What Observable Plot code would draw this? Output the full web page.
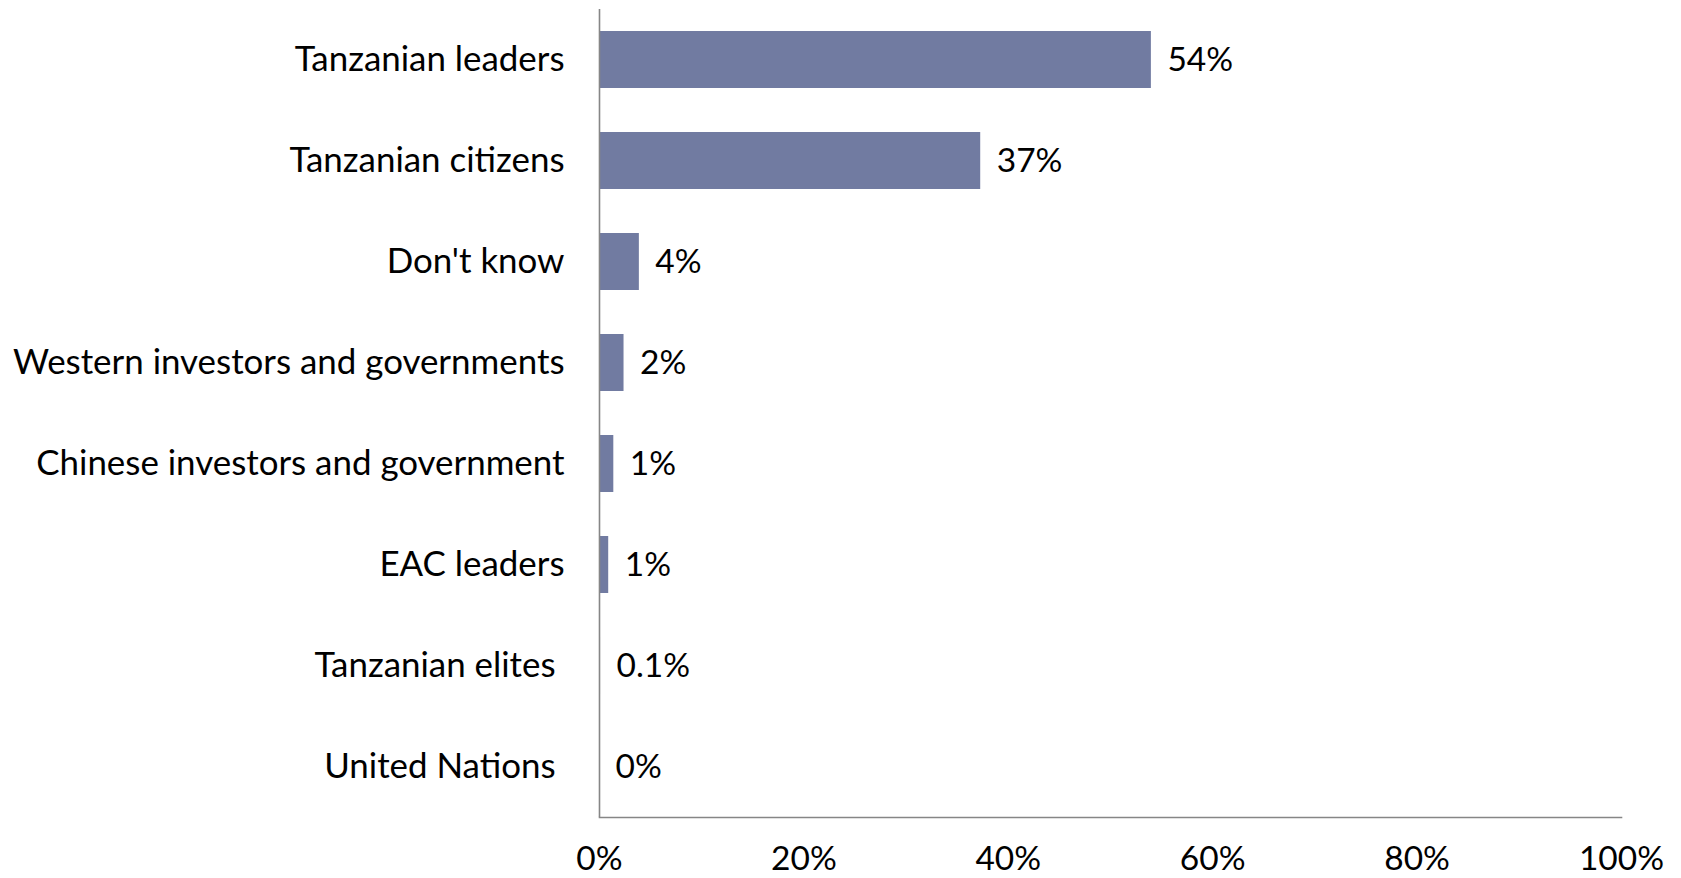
<!DOCTYPE html>
<html>
<head>
<meta charset="utf-8">
<script src="https://cdn.jsdelivr.net/npm/d3@7"></script>
<script src="https://cdn.jsdelivr.net/npm/@observablehq/plot@0.6"></script>
<style>
  html, body { margin: 0; padding: 0; background: #fff; }
  #chart svg { display: block; }
</style>
</head>
<body>
<div id="chart"></div>
<script>
// Categories (top to bottom); trailing no-break space reproduces the original labels' trailing blanks
const categories = [
  "Tanzanian leaders",
  "Tanzanian citizens",
  "Don't know",
  "Western investors and governments",
  "Chinese investors and government",
  "EAC leaders",
  "Tanzanian elites\u00a0",
  "United Nations\u00a0"
];
// Share of respondents (%)
const values = [54, 37.3, 3.9, 2.4, 1.4, 0.9, 0.1, 0];
// Data labels as printed
const valueLabels = ["54%", "37%", "4%", "2%", "1%", "1%", "0.1%", "0%"];
// X axis ticks
const xTicks = [0, 20, 40, 60, 80, 100];

const data = categories.map((c, i) => ({category: c, value: values[i], label: valueLabels[i]}));

const FONT = "Lato, 'Open Sans', sans-serif";
const FS = 33.5;
const FS_CAT = 34.9;
const AXIS = "#868686";

const chart = Plot.plot({
  width: 1681,
  height: 878,
  marginLeft: 599,
  marginRight: 60,
  marginTop: 9,
  marginBottom: 61,
  style: {fontFamily: FONT, fontSize: FS + "px", color: "#000", background: "#fff"},
  x: {domain: [0, 100], ticks: xTicks, tickFormat: d => d + "%", label: null},
  y: {domain: categories, paddingInner: 0.436, paddingOuter: 0.218, label: null},
  marks: [
    Plot.barX(data, {x: "value", y: "category", fill: "#717ba1"}),
    Plot.text(data, {x: "value", y: "category", text: "label", textAnchor: "start", dx: 16, fill: "#000", fontSize: FS}),
    Plot.ruleX([0], {stroke: AXIS, strokeWidth: 1.6}),
    Plot.frame({anchor: "bottom", stroke: AXIS, strokeWidth: 1.6}),
    Plot.axisX({ticks: xTicks, tickFormat: d => d + "%", tickSize: 0, tickPadding: 29, label: null, fontSize: FS, fill: "#000"}),
    Plot.axisY({tickSize: 0, tickPadding: 35, label: null, fontSize: FS_CAT, fill: "#000"})
  ]
});
document.getElementById("chart").appendChild(chart);
</script>
</body>
</html>
